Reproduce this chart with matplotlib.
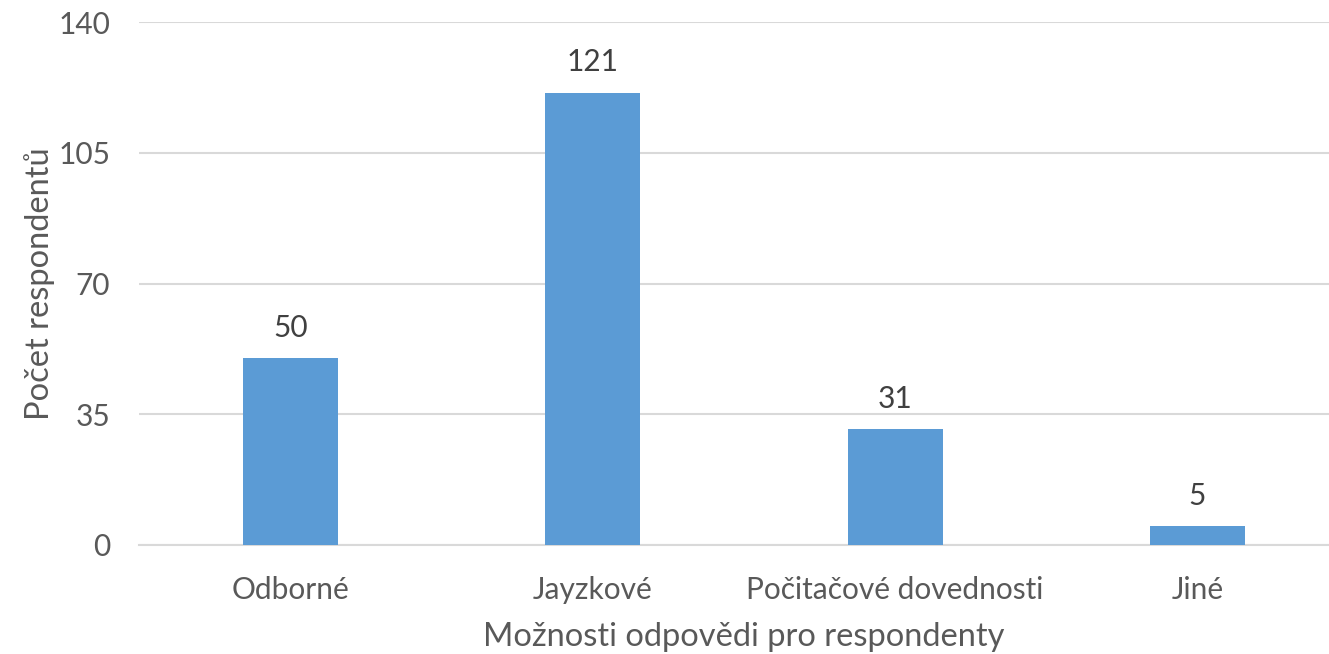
import matplotlib.pyplot as plt

categories = ["Odborné", "Jayzkové", "Počitačové dovednosti", "Jiné"]
counts = [50, 121, 31, 5]
y_ticks = [0, 35, 70, 105, 140]

BAR_COLOR = "#5B9BD5"
GRID_COLOR = "#D9D9D9"
TEXT_COLOR = "#595959"

plt.rcParams["font.family"] = ["Lato", "DejaVu Sans"]

fig = plt.figure(figsize=(13.29, 6.54), dpi=100)
# plot area runs past the right edge of the figure
ax = fig.add_axes([139.3 / 1329, 109 / 654, 1209.3 / 1329, 523 / 654])

x = range(len(categories))
bars = ax.bar(x, counts, width=0.314, color=BAR_COLOR, zorder=3)

for bar, value in zip(bars, counts):
    ax.annotate(str(value), (bar.get_x() + bar.get_width() / 2, value),
                xytext=(0, 22), textcoords="offset points",
                ha="center", va="center", fontsize=21.5, color="#404040")

ax.set_xlim(-0.5, len(categories) - 0.5)
ax.set_ylim(0, 140)
ax.set_yticks(y_ticks)
ax.set_xticks(list(x))
ax.set_xticklabels(categories)
ax.tick_params(axis="both", length=0, labelsize=21.5, colors=TEXT_COLOR)
ax.tick_params(axis="y", pad=21)
ax.tick_params(axis="x", pad=22)

ax.grid(axis="y", color=GRID_COLOR, linewidth=1.5, zorder=0)
for side in ["top", "right", "left"]:
    ax.spines[side].set_visible(False)
ax.spines["bottom"].set_color(GRID_COLOR)
ax.spines["bottom"].set_linewidth(1.5)

ax.set_xlabel("Možnosti odpovědi pro respondenty", fontsize=23.5,
              color=TEXT_COLOR, labelpad=13)
ax.set_ylabel("Počet respondentů", fontsize=23.5, color=TEXT_COLOR, labelpad=2)

fig.savefig("out.png", dpi=100)
